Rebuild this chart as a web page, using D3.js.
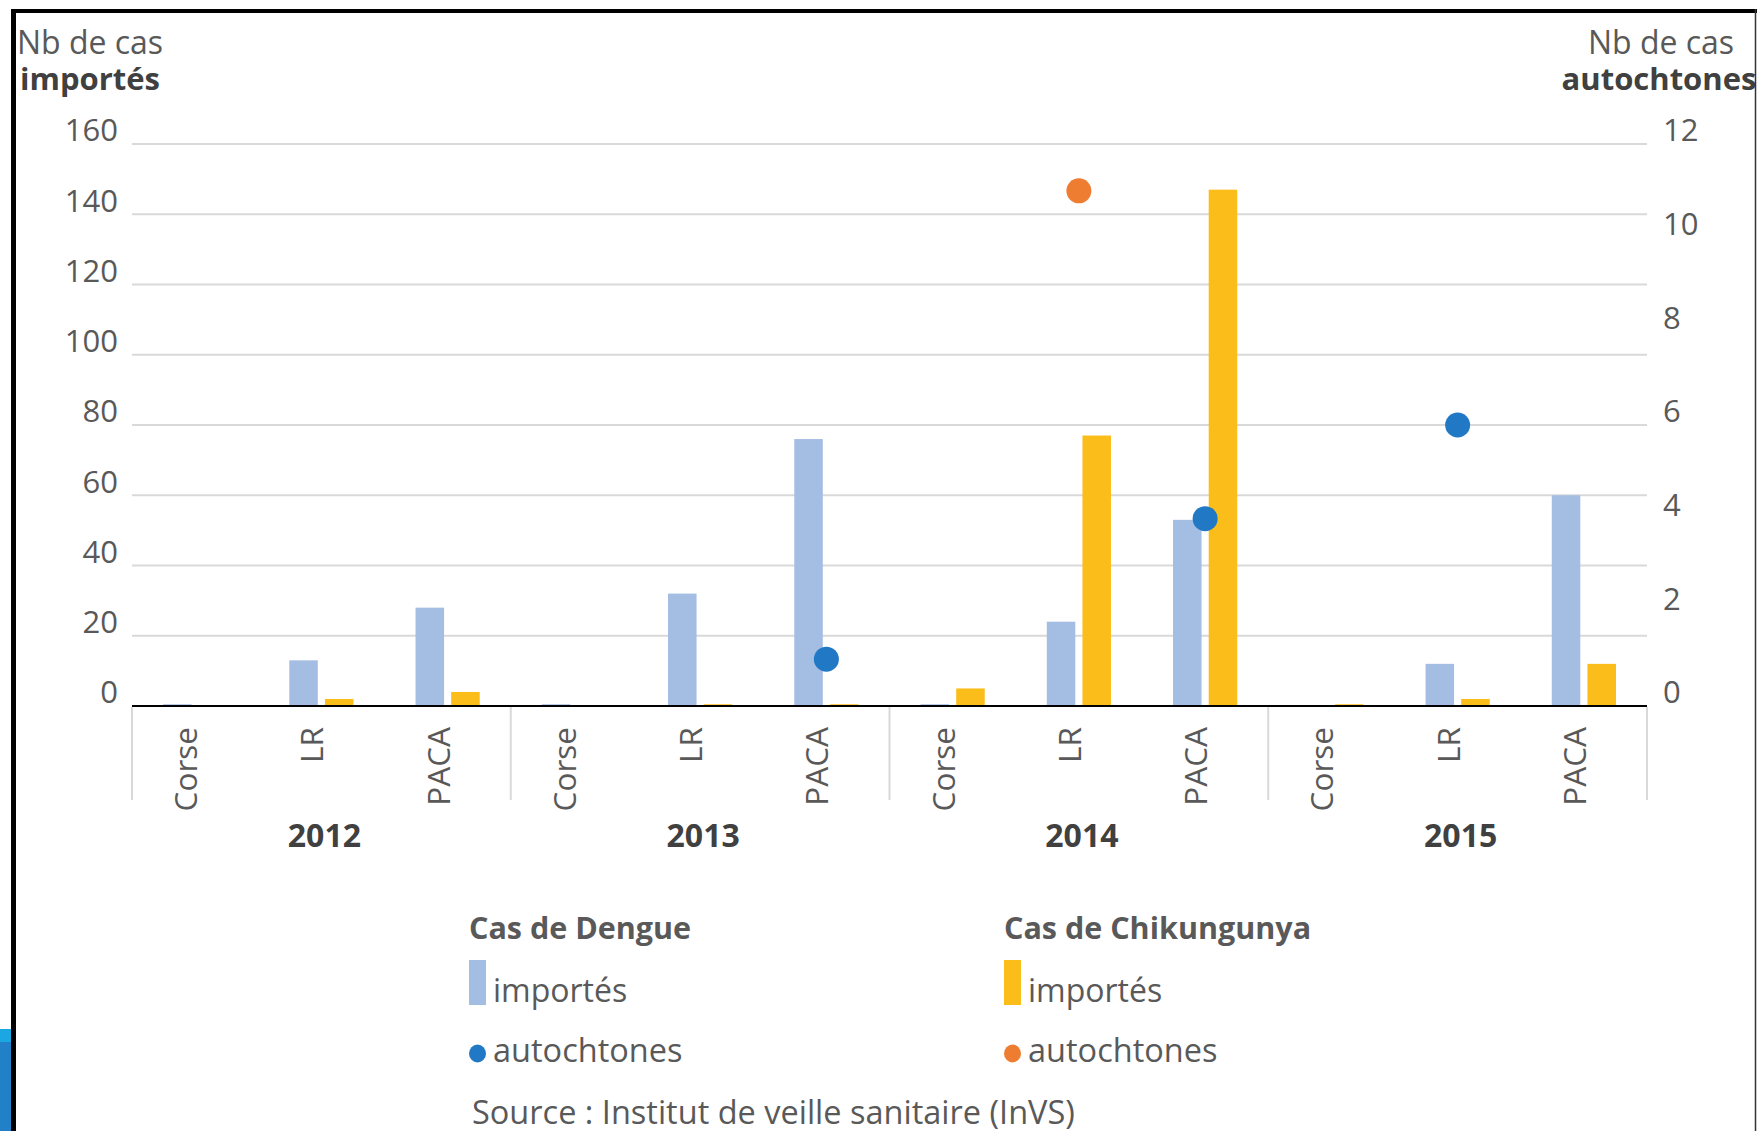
<!DOCTYPE html>
<html>
<head>
<meta charset="utf-8">
<script src="https://cdn.jsdelivr.net/npm/d3@7"></script>
<style>
  html, body { margin: 0; padding: 0; background: #fff; }
  svg text { font-family: "Open Sans", "Noto Sans", sans-serif; }
</style>
</head>
<body>
<svg id="chart" width="1757" height="1131"></svg>
<script>
// data
var years = ["2012", "2013", "2014", "2015"];
var regions = ["Corse", "LR", "PACA"];
var dengueImportes = [0.5, 13, 28,  0.5, 32, 76,  0.5, 24, 53,  0, 12, 60];
var chikImportes   = [0, 2, 4,      0, 0.5, 0.5,  5, 77, 147,   0.5, 2, 12];
var dengueAutochtones = [null, null, null, null, null, 1, null, null, 4, null, 6, null];
var chikAutochtones   = [null, null, null, null, null, null, null, 11, null, null, null, null];
var leftTicks = [0, 20, 40, 60, 80, 100, 120, 140, 160];
var rightTicks = [0, 2, 4, 6, 8, 10, 12];

var blueBar = "#a4bde3";
var yellowBar = "#fbbd19";
var blueDot = "#2179c6";
var orangeDot = "#ee7d31";
var textCol = "#595959";

var svg = d3.select("#chart");

var plotLeft = 132, plotRight = 1647, plotTop = 144, plotBottom = 706;

// one key per category : year|region
var cats = [];
years.forEach(function(y) {
  regions.forEach(function(r) { cats.push(y + "|" + r); });
});

var x = d3.scaleBand().domain(cats).range([plotLeft, plotRight]).padding(0);
var x1 = d3.scaleBand().domain(["dengue", "chik"]).range([0, x.bandwidth()])
    .paddingInner(0.2).paddingOuter(0.87);
var yL = d3.scaleLinear().domain([0, 160]).range([plotBottom, plotTop]);
var yR = d3.scaleLinear().domain([0, 12]).range([plotBottom, plotTop]);

// gridlines
svg.append("g").selectAll("line").data(leftTicks.slice(1)).enter()
  .append("line")
  .attr("x1", plotLeft).attr("x2", plotRight)
  .attr("y1", function(d) { return yL(d); })
  .attr("y2", function(d) { return yL(d); })
  .style("stroke", "#d9d9d9")
  .style("stroke-width", 2);

// left axis
var axL = svg.append("g")
    .attr("transform", "translate(" + (plotLeft - 14) + ",0)")
    .call(d3.axisLeft(yL).tickValues(leftTicks).tickSize(0).tickPadding(0));
axL.select(".domain").remove();
axL.selectAll("text")
  .attr("dy", "-0.1em")
  .style("font-size", "31px")
  .style("font-family", "Open Sans")
  .style("fill", textCol);

// right axis
var axR = svg.append("g")
    .attr("transform", "translate(" + (plotRight + 16) + ",0)")
    .call(d3.axisRight(yR).tickValues(rightTicks).tickSize(0).tickPadding(0));
axR.select(".domain").remove();
axR.selectAll("text")
  .attr("dy", "-0.1em")
  .style("font-size", "31px")
  .style("font-family", "Open Sans")
  .style("fill", textCol);

// bars
var bars = svg.append("g");
bars.selectAll(".dengue").data(dengueImportes).enter()
  .append("rect")
  .attr("x", function(d, i) { return x(cats[i]) + x1("dengue"); })
  .attr("width", x1.bandwidth())
  .attr("y", function(d) { return yL(d); })
  .attr("height", function(d) { return yL(0) - yL(d); })
  .style("fill", blueBar);
bars.selectAll(".chik").data(chikImportes).enter()
  .append("rect")
  .attr("x", function(d, i) { return x(cats[i]) + x1("chik"); })
  .attr("width", x1.bandwidth())
  .attr("y", function(d) { return yL(d); })
  .attr("height", function(d) { return yL(0) - yL(d); })
  .style("fill", yellowBar);

// zero line
svg.append("line")
  .attr("x1", plotLeft).attr("x2", plotRight)
  .attr("y1", yL(0)).attr("y2", yL(0))
  .style("stroke", "#000")
  .style("stroke-width", 2);

// year separators
var yearEdges = years.map(function(y) { return x(y + "|Corse"); }).concat([plotRight]);
svg.append("g").selectAll("line").data(yearEdges).enter()
  .append("line")
  .attr("x1", function(d) { return d; })
  .attr("x2", function(d) { return d; })
  .attr("y1", yL(0) + 1).attr("y2", 800)
  .style("stroke", "#d9d9d9")
  .style("stroke-width", 2);

// region labels (rotated)
svg.append("g").selectAll("text").data(cats).enter()
  .append("text")
  .attr("transform", function(d) {
    return "translate(" + (x(d) + x.bandwidth() / 2 + 2) + ",727) rotate(-90)";
  })
  .attr("text-anchor", "end")
  .text(function(d) { return d.split("|")[1]; })
  .style("font-size", "31.5px")
  .style("fill", textCol);

// year labels
svg.append("g").selectAll("text").data(years).enter()
  .append("text")
  .attr("x", function(d) { return x(d + "|LR") + x.bandwidth() / 2 + 3; })
  .attr("y", 847)
  .attr("text-anchor", "middle")
  .text(function(d) { return d; })
  .style("font-size", "32px")
  .style("font-weight", "bold")
  .style("fill", "#404040");

// autochtones dots (right axis)
var dots = svg.append("g");
dots.selectAll(".dd").data(dengueAutochtones).enter()
  .filter(function(d) { return d != null; })
  .append("circle")
  .attr("cx", function(d) { return x(cats[dengueAutochtones.indexOf(d)]) + x.bandwidth() / 2; })
  .attr("cy", function(d) { return yR(d); })
  .attr("r", 12.5)
  .style("fill", blueDot);
dots.selectAll(".cd").data(chikAutochtones).enter()
  .filter(function(d) { return d != null; })
  .append("circle")
  .attr("cx", function(d) { return x(cats[chikAutochtones.indexOf(d)]) + x.bandwidth() / 2; })
  .attr("cy", function(d) { return yR(d); })
  .attr("r", 12.5)
  .style("fill", orangeDot);

// axis titles
var tL = svg.append("text").attr("text-anchor", "middle").style("font-size", "32px");
tL.append("tspan").attr("x", 90).attr("y", 54).style("fill", textCol).text("Nb de cas");
tL.append("tspan").attr("x", 90).attr("y", 90).style("fill", "#404040").style("font-weight", "bold")
  .style("font-size", "31px").text("importés");
var tR = svg.append("text").attr("text-anchor", "middle").style("font-size", "32px");
tR.append("tspan").attr("x", 1661).attr("y", 54).style("fill", textCol).text("Nb de cas");
tR.append("tspan").attr("x", 1659).attr("y", 90).style("fill", "#404040").style("font-weight", "bold")
  .style("font-size", "31px").text("autochtones");

// legend
var legendCols = [
  {title: "Cas de Dengue", bar: blueBar, dot: blueDot, x: 469},
  {title: "Cas de Chikungunya", bar: yellowBar, dot: orangeDot, x: 1004}
];
var lg = svg.append("g").selectAll("g").data(legendCols).enter()
  .append("g")
  .attr("transform", function(d) { return "translate(" + d.x + ",0)"; });
lg.append("text")
  .attr("x", 0).attr("y", 939)
  .text(function(d) { return d.title; })
  .style("font-size", "30.5px")
  .style("font-weight", "bold")
  .style("fill", textCol);
lg.append("rect")
  .attr("x", 0).attr("y", 960)
  .attr("width", 17).attr("height", 45)
  .style("fill", function(d) { return d.bar; });
lg.append("text")
  .attr("x", 24).attr("y", 1002)
  .text("importés")
  .style("font-size", "32px")
  .style("fill", textCol);
lg.append("ellipse")
  .attr("cx", 8.5).attr("cy", 1053.5)
  .attr("rx", 8.5).attr("ry", 9)
  .style("fill", function(d) { return d.dot; });
lg.append("text")
  .attr("x", 24).attr("y", 1062)
  .text("autochtones")
  .style("font-size", "32.5px")
  .style("fill", textCol);

svg.append("text")
  .attr("x", 472).attr("y", 1124)
  .text("Source : Institut de veille sanitaire (InVS)")
  .style("font-size", "32.5px")
  .style("fill", textCol);

// screenshot frame
svg.append("rect").attr("x", 0).attr("y", 1029).attr("width", 12).attr("height", 102).style("fill", "#2180c8");
svg.append("rect").attr("x", 0).attr("y", 1029).attr("width", 12).attr("height", 13).style("fill", "#1ba8e2");
svg.append("line").attr("x1", 11).attr("x2", 1757).attr("y1", 11).attr("y2", 11)
  .style("stroke", "#000").style("stroke-width", 4);
svg.append("line").attr("x1", 13.5).attr("x2", 13.5).attr("y1", 9).attr("y2", 1131)
  .style("stroke", "#000").style("stroke-width", 5);
svg.append("line").attr("x1", 1755.5).attr("x2", 1755.5).attr("y1", 9).attr("y2", 1131)
  .style("stroke", "#333").style("stroke-width", 1.5);
</script>
</body>
</html>
